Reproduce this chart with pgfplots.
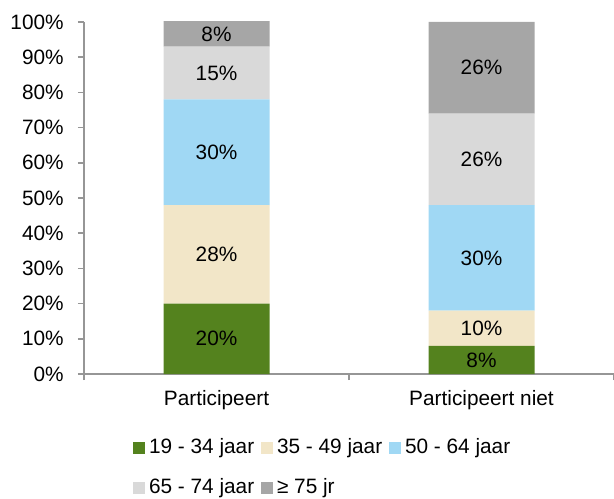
\documentclass[border=0pt]{standalone}
\usepackage{pgfplots}
\pgfplotsset{compat=1.18}
\usepackage{fontspec}
\setmainfont{Liberation Sans}
\definecolor{cA}{RGB}{84,130,30}
\definecolor{cB}{RGB}{242,230,200}
\definecolor{cC}{RGB}{160,216,244}
\definecolor{cD}{RGB}{217,217,217}
\definecolor{cE}{RGB}{166,166,166}
\definecolor{axgray}{RGB}{150,150,150}
\newcommand{\ff}{\fontsize{10.4pt}{12.5pt}\selectfont}
\begin{document}
\ff
\begin{tikzpicture}
\begin{axis}[
  name=main,
  scale only axis, width=265pt, height=176pt,
  ybar stacked, bar width=53pt,
  xmin=-0.5, xmax=1.5, ymin=0, ymax=100,
  xtick={-0.5,0.5,1.5}, xticklabels={},
  extra x ticks={0,1},
  extra x tick labels={Participeert, Participeert niet},
  extra x tick style={tick style={draw=none}, xticklabel style={yshift=-1.5pt}},
  ytick={0,10,...,100},
  yticklabel={\pgfmathprintnumber{\tick}\%},
  /pgf/number format/assume math mode=true,
  yticklabel style={xshift=-3.5pt},
  axis x line*=bottom, axis y line*=left,
  axis line style={axgray, line width=0.75pt, -},
  tick style={axgray, line width=0.75pt},
  major tick length=3pt,
  tick align=outside,
  tick label style={font=\ff, black},
  legend columns=3,
  legend cell align=left,
  legend style={at={(0.0925,-0.178)}, anchor=north west, draw=none, fill=none,
    inner sep=0pt, outer sep=0pt, font=\ff, row sep=9pt,
    nodes={inner sep=1pt}},
  legend image code/.code={\fill[#1] (0pt,-3pt) rectangle (6pt,3pt);},
]
\addplot[fill=cA, draw=none] coordinates {(0,20) (1,8)};
\addlegendentry{\makebox[56pt][l]{\hspace{1pt}19 - 34 jaar}}
\addplot[fill=cB, draw=none] coordinates {(0,28) (1,10)};
\addlegendentry{\makebox[56pt][l]{\hspace{1pt}35 - 49 jaar}}
\addplot[fill=cC, draw=none] coordinates {(0,30) (1,30)};
\addlegendentry{\makebox[56pt][l]{\hspace{1pt}50 - 64 jaar}}
\addplot[fill=cD, draw=none] coordinates {(0,15) (1,26)};
\addlegendentry{\makebox[56pt][l]{\hspace{1pt}65 - 74 jaar}}
\addplot[fill=cE, draw=none] coordinates {(0,8) (1,26)};
\addlegendentry{\makebox[56pt][l]{\hspace{1pt}≥ 75 jr}}
\coordinate (O) at (rel axis cs:0,0);
\end{axis}
\begin{axis}[
  scale only axis, width=265pt, height=176pt,
  xmin=-0.5, xmax=1.5, ymin=0, ymax=100,
  hide axis, clip=false,
]
\addplot[draw=none, mark=none, nodes near coords, nodes near coords align=center,
  point meta=explicit symbolic,
  every node near coord/.append style={font=\ff, black, anchor=center}]
  coordinates {
  (0,10) [20\%]
  (0,34) [28\%]
  (0,63) [30\%]
  (0,85.5) [15\%]
  (0,96.5) [8\%]
  (1,4) [8\%]
  (1,13) [10\%]
  (1,33) [30\%]
  (1,61) [26\%]
  (1,87) [26\%]
  };
\end{axis}
\pgfresetboundingbox
\path (O) ++(-42pt,-62pt) rectangle ++(307pt,249pt);
\end{tikzpicture}
\end{document}
